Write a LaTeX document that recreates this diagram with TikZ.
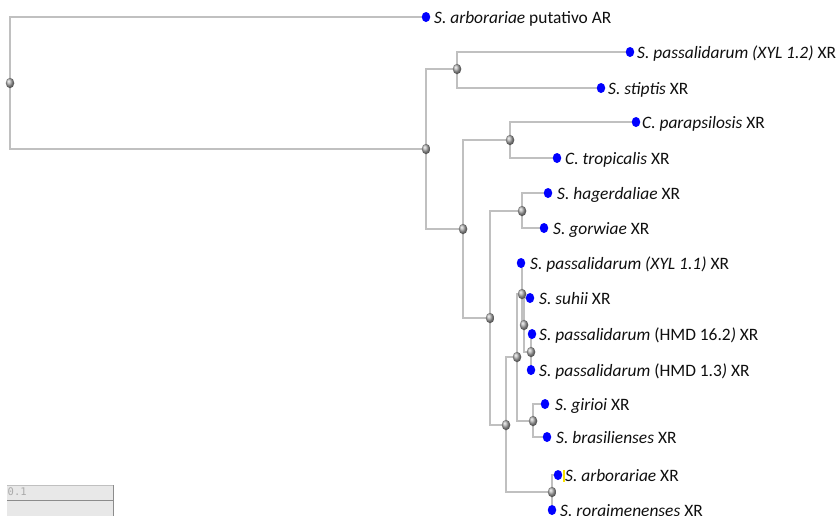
\documentclass[tikz,border=0pt]{standalone}
\usepackage{fontspec}
\setmainfont{Carlito}
\newfontfamily\monof{DejaVu Sans Mono}
\usetikzlibrary{shapes.geometric}
\definecolor{edgegray}{RGB}{192,192,192}
\definecolor{leafblue}{RGB}{0,0,255}
\definecolor{txt}{RGB}{15,15,15}
\definecolor{scalefill}{RGB}{232,232,232}
\definecolor{scaleline}{RGB}{140,140,140}
\definecolor{scaletext}{RGB}{170,170,170}
\definecolor{marky}{RGB}{250,225,0}
\pgfdeclarelayer{bg}
\pgfsetlayers{bg,main}
\begin{document}
\begin{tikzpicture}[x=1pt,y=-1pt,
 leaf/.style={ellipse, fill=leafblue, inner sep=0pt, minimum width=8.5pt, minimum height=10pt},
 inode/.style={ellipse, shading=ball, ball color=gray!65, inner sep=0pt, minimum width=8.5pt, minimum height=10.5pt},
 lbl/.style={anchor=base west, inner sep=0pt, text=txt, font=\fontsize{17.4}{20}\selectfont},
 edge/.style={draw=edgegray, line width=1.3pt}]
\useasboundingbox (0,0) rectangle (840,515);
% internal nodes
\node[inode] (R) at (10,83) {};
\node[inode] (A) at (426,149) {};
\node[inode] (B) at (457,69) {};
\node[inode] (C) at (463,229) {};
\node[inode] (D) at (510,140) {};
\node[inode] (E) at (490,318) {};
\node[inode] (F) at (522,211) {};
\node[inode] (G) at (506,425) {};
\node[inode] (H) at (517,357) {};
\node[inode] (K) at (522,294) {};
\node[inode] (L) at (524,325) {};
\node[inode] (M) at (531,352) {};
\node[inode] (J) at (533,421) {};
\node[inode] (I) at (552,492) {};
% leaves
\node[leaf] (l1) at (426,17) {};
\node[leaf] (l2) at (630,52) {};
\node[leaf] (l3) at (601,88) {};
\node[leaf] (l4) at (636,122) {};
\node[leaf] (l5) at (557,158) {};
\node[leaf] (l6) at (548,193) {};
\node[leaf] (l7) at (544,228) {};
\node[leaf] (l8) at (521,263) {};
\node[leaf] (l9) at (530,298) {};
\node[leaf] (l10) at (532,334) {};
\node[leaf] (l11) at (531,370) {};
\node[leaf] (l12) at (545,404) {};
\node[leaf] (l13) at (547,437) {};
\node[leaf] (l14) at (558,475) {};
\node[leaf] (l15) at (552,510) {};
% edges
\begin{pgfonlayer}{bg}
\foreach \p/\c in {R/l1,R/A,A/B,A/C,B/l2,B/l3,C/D,C/E,D/l4,D/l5,E/F,E/G,F/l6,F/l7,G/H,G/I,H/K,H/J,K/l8,K/L,L/l9,L/M,M/l10,M/l11,J/l12,J/l13,I/l14,I/l15}
  \draw[edge] (\p.center) |- (\c.center);
\end{pgfonlayer}
% labels
\node[lbl] (t1) at (434,23) {\textit{S. arborariae} putativo AR};
\node[lbl] (t2) at (637,58.5) {\textit{S. passalidarum (XYL 1.2)} XR};
\node[lbl] (t3) at (608,94.5) {\textit{S. stiptis} XR};
\node[lbl] (t4) at (642,128.5) {\textit{C. parapsilosis} XR};
\node[lbl] (t5) at (565,164.5) {\textit{C. tropicalis} XR};
\node[lbl] (t6) at (557,199.5) {\textit{S. hagerdaliae} XR};
\node[lbl] (t7) at (553,234.5) {\textit{S. gorwiae} XR};
\node[lbl] (t8) at (530,269.5) {\textit{S. passalidarum (XYL 1.1)} XR};
\node[lbl] (t9) at (539,304.5) {\textit{S. suhii} XR};
\node[lbl] (t10) at (539,340.5) {\textit{S. passalidarum} (HMD 16.2\textit{)} XR};
\node[lbl] (t11) at (539,376.5) {\textit{S. passalidarum} (HMD 1.3\textit{)} XR};
\node[lbl] (t12) at (555,410.5) {\textit{S. girioi} XR};
\node[lbl] (t13) at (556,443.5) {\textit{S. brasilienses} XR};
\node[lbl] (t14) at (565,481.5) {\textit{S. arborariae} XR};
\node[lbl] (t15) at (560,516) {\textit{S. roraimenenses} XR};
\draw[marky, line width=1.2pt] (564,470) -- (564,482);
% scale bar
\fill[scalefill] (7,485) rectangle (113,516);
\draw[edgegray, line width=0.8pt] (7,485.5) -- (113,485.5);
\draw[scaleline, line width=1pt] (7,500) -- (113,500);
\draw[scaleline, line width=1pt] (113,485) -- (113,516);
\node[font=\monof\fontsize{10.5}{12}\selectfont, text=scaletext, anchor=base west, inner sep=0pt] (sb) at (7.5,495.5) {0.1};
\end{tikzpicture}
\end{document}
